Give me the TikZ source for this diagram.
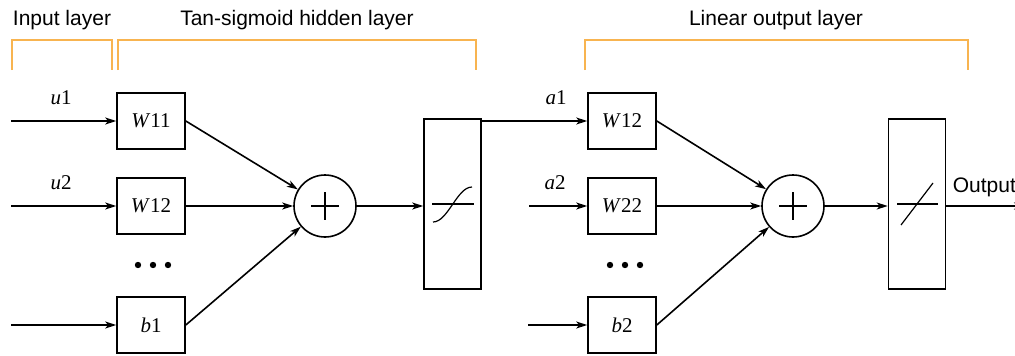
\documentclass[tikz,border=0pt]{standalone}
\usepackage{fontspec}
\setmainfont{Liberation Serif}
\setsansfont{Liberation Sans}
\usetikzlibrary{arrows.meta}
\begin{document}
\begin{tikzpicture}[x=1pt,y=-1pt,
  line width=1.6pt,
  arr/.style={-{Stealth[length=11pt,width=7pt,inset=3pt]}},
  wbox/.style={draw,minimum width=68pt,minimum height=56pt,inner sep=0pt,font=\fontsize{21}{24}\selectfont},
  sumnode/.style={draw,circle,minimum size=62pt,inner sep=0pt},
  actbox/.style={draw,minimum width=57pt,minimum height=170pt,inner sep=0pt},
  lbl/.style={font=\fontsize{21}{24}\selectfont,inner sep=0pt},
  title/.style={font=\sffamily\fontsize{21}{24}\selectfont,inner sep=0pt},
  brk/.style={draw={rgb,255:red,248;green,180;blue,80},line width=1.5pt},
  dot/.style={fill=black,draw=none}
]
\useasboundingbox (0,0) rectangle (1015,356);

% titles
\node[title] (t1) at (62,20) {Input layer};
\node[title] (t2) at (297,20) {Tan-sigmoid hidden layer};
\node[title] (t3) at (776,20) {Linear output layer};

% brackets
\draw[brk] (12,70) -- (12,40) -- (112,40) -- (112,70);
\draw[brk] (118,70) -- (118,40) -- (476,40) -- (476,70);
\draw[brk] (585,70) -- (585,40) -- (968,40) -- (968,70);

% hidden layer
\node[wbox] (w11) at (151,121) {\textit{W}11};
\node[wbox] (w12) at (151,206) {\textit{W}12};
\node[wbox] (b1) at (151,325) {\textit{b}1};
\fill[dot] (138,265) circle (3.2) (153,265) circle (3.2) (168,265) circle (3.2);
\node[sumnode] (s1) at (325,206) {};
\node[actbox] (sig) at (452.5,204) {};

\coordinate (i1) at (11,121);
\coordinate (i2) at (11,206);
\coordinate (i3) at (11,325);
\node[lbl] (u1) at (61,98) {\textit{u}1};
\node[lbl] (u2) at (61,183) {\textit{u}2};

\draw[arr] (i1) -- (w11);
\draw[arr] (i2) -- (w12);
\draw[arr] (i3) -- (b1);
\draw[arr] (w11.east) -- (s1);
\draw[arr] (w12.east) -- (s1);
\draw[arr] (b1.east) -- (s1);
\draw[arr] (s1) -- (sig.west |- s1);

% plus sign
\draw (s1.center) ++(-14,0) -- ++(28,0);
\draw (s1.center) ++(0,-14) -- ++(0,28);

% sigmoid symbol
\draw[line width=1.2pt] (432,204) -- (474,204);
\draw[line width=1.2pt] (433,222) .. controls (448,222) and (457,187) .. (472,187);

% output layer
\node[wbox] (w12b) at (622,121) {\textit{W}12};
\node[wbox] (w22) at (622,206) {\textit{W}22};
\node[wbox] (b2) at (622,325) {\textit{b}2};
\fill[dot] (610,265) circle (3.2) (625,265) circle (3.2) (640,265) circle (3.2);
\node[sumnode] (s2) at (793,206) {};
\node[actbox] (lin) at (917,204) {};

\coordinate (j2) at (529,206);
\coordinate (j3) at (528,325);
\node[lbl] (a1) at (556,98) {\textit{a}1};
\node[lbl] (a2) at (555,183) {\textit{a}2};

\draw[arr] (sig.east |- w12b.west) -- (w12b.west);
\draw[arr] (j2) -- (w22);
\draw[arr] (j3) -- (b2);
\draw[arr] (w12b.east) -- (s2);
\draw[arr] (w22.east) -- (s2);
\draw[arr] (b2.east) -- (s2);
\draw[arr] (s2) -- (lin.west |- s2);

\draw (s2.center) ++(-14,0) -- ++(28,0);
\draw (s2.center) ++(0,-14) -- ++(0,28);

% linear symbol
\draw[line width=1.2pt] (897,204) -- (938,204);
\draw[line width=1.2pt] (901,225) -- (933,183);

\coordinate (o) at (1025,206);
\draw[arr] (lin.east |- o) -- (o);
\node[title,anchor=west] (out) at (952,187) {Output};
\end{tikzpicture}
\end{document}
